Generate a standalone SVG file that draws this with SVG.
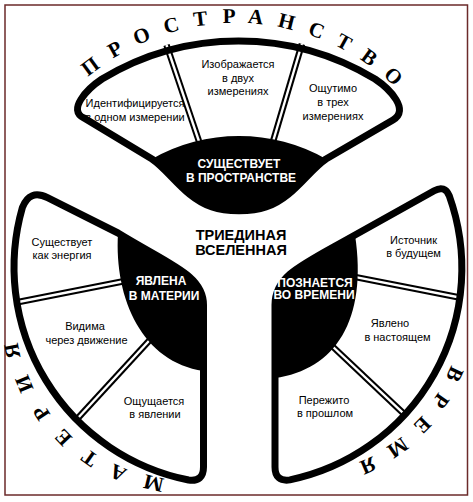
<svg xmlns="http://www.w3.org/2000/svg" width="473" height="502" viewBox="0 0 473 502">
<style>
.blade{fill:#fff;stroke:none}
.outline{fill:none;stroke:#000;stroke-width:7;stroke-linejoin:round}
.hub{fill:#000}
.dv{stroke:#000;stroke-width:6.5;fill:none}
.dvw{stroke:#fff;stroke-width:2.4;fill:none}
.lbl{font-family:"Liberation Sans",Arial,sans-serif;font-size:11px;fill:#000;text-anchor:middle}
.hubt{font-family:"Liberation Sans",Arial,sans-serif;font-size:12px;font-weight:bold;fill:#fff;text-anchor:middle}
.title{font-family:"Liberation Sans",Arial,sans-serif;font-size:14.5px;font-weight:bold;fill:#000;text-anchor:middle}
.arc{font-family:"Liberation Serif","Times New Roman",serif;font-size:21px;font-weight:bold;fill:#000;text-anchor:middle}
</style>
<defs>
<path id="arcTop" d="M37.7,137.5 A229 229 0 0 1 434.3,137.5"/>
<path id="arcLeft" d="M215.9,476.4 A172 172 0 0 1 16.6,277.1"/>
<path id="arcRight" d="M458.4,277.7 A169 169 0 0 1 262.7,473.4"/>
</defs>
<rect x="0" y="0" width="473" height="502" fill="#fff"/>
<rect x="5" y="5" width="462.5" height="490" fill="none" stroke="#6b2a2a" stroke-width="1.5"/>

<g id="space">
<path class="blade" d="M152,159 L84,118 C67,110 87,89 102,79 A264 264 0 0 1 375,79 C390,89 410,110 393,120 L326,159 C308,171 293,198 266,207 C252,212 226,212 212,207 C185,198 170,171 152,159Z"/>
<path class="dv" d="M166.5,45 L202.6,152"/><path class="dvw" d="M166.5,45 L202.6,152"/>
<path class="dv" d="M301.9,44 L270.5,150"/><path class="dvw" d="M301.9,44 L270.5,150"/>
<path class="hub" d="M152,159 A176 176 0 0 1 326,159 C308,171 293,198 266,207 C252,212 226,212 212,207 C185,198 170,171 152,159Z"/>
<path class="outline" d="M152,159 L84,118 C67,110 87,89 102,79 A264 264 0 0 1 375,79 C390,89 410,110 393,120 L326,159 C308,171 293,198 266,207 C252,212 226,212 212,207 C185,198 170,171 152,159Z"/>
<text class="lbl" x="135" y="107">Идентифицируется</text>
<text class="lbl" x="135" y="121">в одном измерении</text>
<text class="lbl" x="238" y="68">Изображается</text>
<text class="lbl" x="238" y="81.5">в двух</text>
<text class="lbl" x="238" y="95">измерениях</text>
<text class="lbl" x="333" y="92">Ощутимо</text>
<text class="lbl" x="333" y="106">в трех</text>
<text class="lbl" x="333" y="120">измерениях</text>
<text class="hubt" x="239" y="168">СУЩЕСТВУЕТ</text>
<text class="hubt" x="241" y="181.5">В ПРОСТРАНСТВЕ</text>
<text class="arc" letter-spacing="14.5"><textPath href="#arcTop" startOffset="254">ПРОСТРАНСТВО</textPath></text>
</g>

<g id="matter">
<path class="blade" d="M118,233 L47.5,197.7 Q29.6,188.8 22.4,207.5 A217 217 0 0 0 188.6,480 Q203.5,482 203.5,467 L203.5,305 C203.5,275 170,265 118,233Z"/>
<path class="dv" d="M16,302.5 L125,281"/><path class="dvw" d="M16,302.5 L125,281"/>
<path class="dv" d="M76.6,419.5 L153,336.5"/><path class="dvw" d="M76.6,419.5 L153,336.5"/>
<path class="hub" d="M118,233 C170,265 203.5,275 203.5,305 L203.5,371 C143,362 114,300 118,233Z"/>
<path class="outline" d="M118,233 L47.5,197.7 Q29.6,188.8 22.4,207.5 A217 217 0 0 0 188.6,480 Q203.5,482 203.5,467 L203.5,305 C203.5,275 170,265 118,233Z"/>
<text class="lbl" x="62" y="246">Существует</text>
<text class="lbl" x="62" y="259">как энергия</text>
<text class="lbl" x="85" y="330">Видима</text>
<text class="lbl" x="86.5" y="344">через движение</text>
<text class="lbl" x="154" y="405">Ощущается</text>
<text class="lbl" x="155" y="418">в явлении</text>
<text class="hubt" x="161" y="285">ЯВЛЕНА</text>
<text class="hubt" x="164" y="300">В МАТЕРИИ</text>
<text class="arc" letter-spacing="18"><textPath href="#arcLeft" startOffset="167">МАТЕРИЯ</textPath></text>
</g>

<g id="time">
<path class="blade" d="M355,235 L434.2,190.7 Q444.7,184.8 449.3,195.9 A216 216 0 0 1 289.9,479.9 Q275,482 275,467 L275,305 C275,275 302,265 355,235Z"/>
<path class="dv" d="M352,276.4 L459.5,297.5"/><path class="dvw" d="M352,276.4 L459.5,297.5"/>
<path class="dv" d="M322,336.5 L404.5,414.3"/><path class="dvw" d="M322,336.5 L404.5,414.3"/>
<path class="hub" d="M355,235 C302,265 275,275 275,305 L275,378 C335,370 368,320 355,235Z"/>
<path class="outline" d="M355,235 L434.2,190.7 Q444.7,184.8 449.3,195.9 A216 216 0 0 1 289.9,479.9 Q275,482 275,467 L275,305 C275,275 302,265 355,235Z"/>
<text class="lbl" x="413.5" y="244">Источник</text>
<text class="lbl" x="413.5" y="257">в будущем</text>
<text class="lbl" x="390" y="327">Явлено</text>
<text class="lbl" x="397.5" y="340.5">в настоящем</text>
<text class="lbl" x="324" y="404">Пережито</text>
<text class="lbl" x="325" y="417">в прошлом</text>
<text class="hubt" x="315" y="286.5">ПОЗНАЕТСЯ</text>
<text class="hubt" x="314" y="299">ВО ВРЕМЕНИ</text>
<text class="arc" letter-spacing="15.5"><textPath href="#arcRight" startOffset="165">ВРЕМЯ</textPath></text>
</g>

<g id="universe">
<text class="title" x="241" y="240">ТРИЕДИНАЯ</text>
<text class="title" x="241" y="255">ВСЕЛЕННАЯ</text>
</g>
</svg>
